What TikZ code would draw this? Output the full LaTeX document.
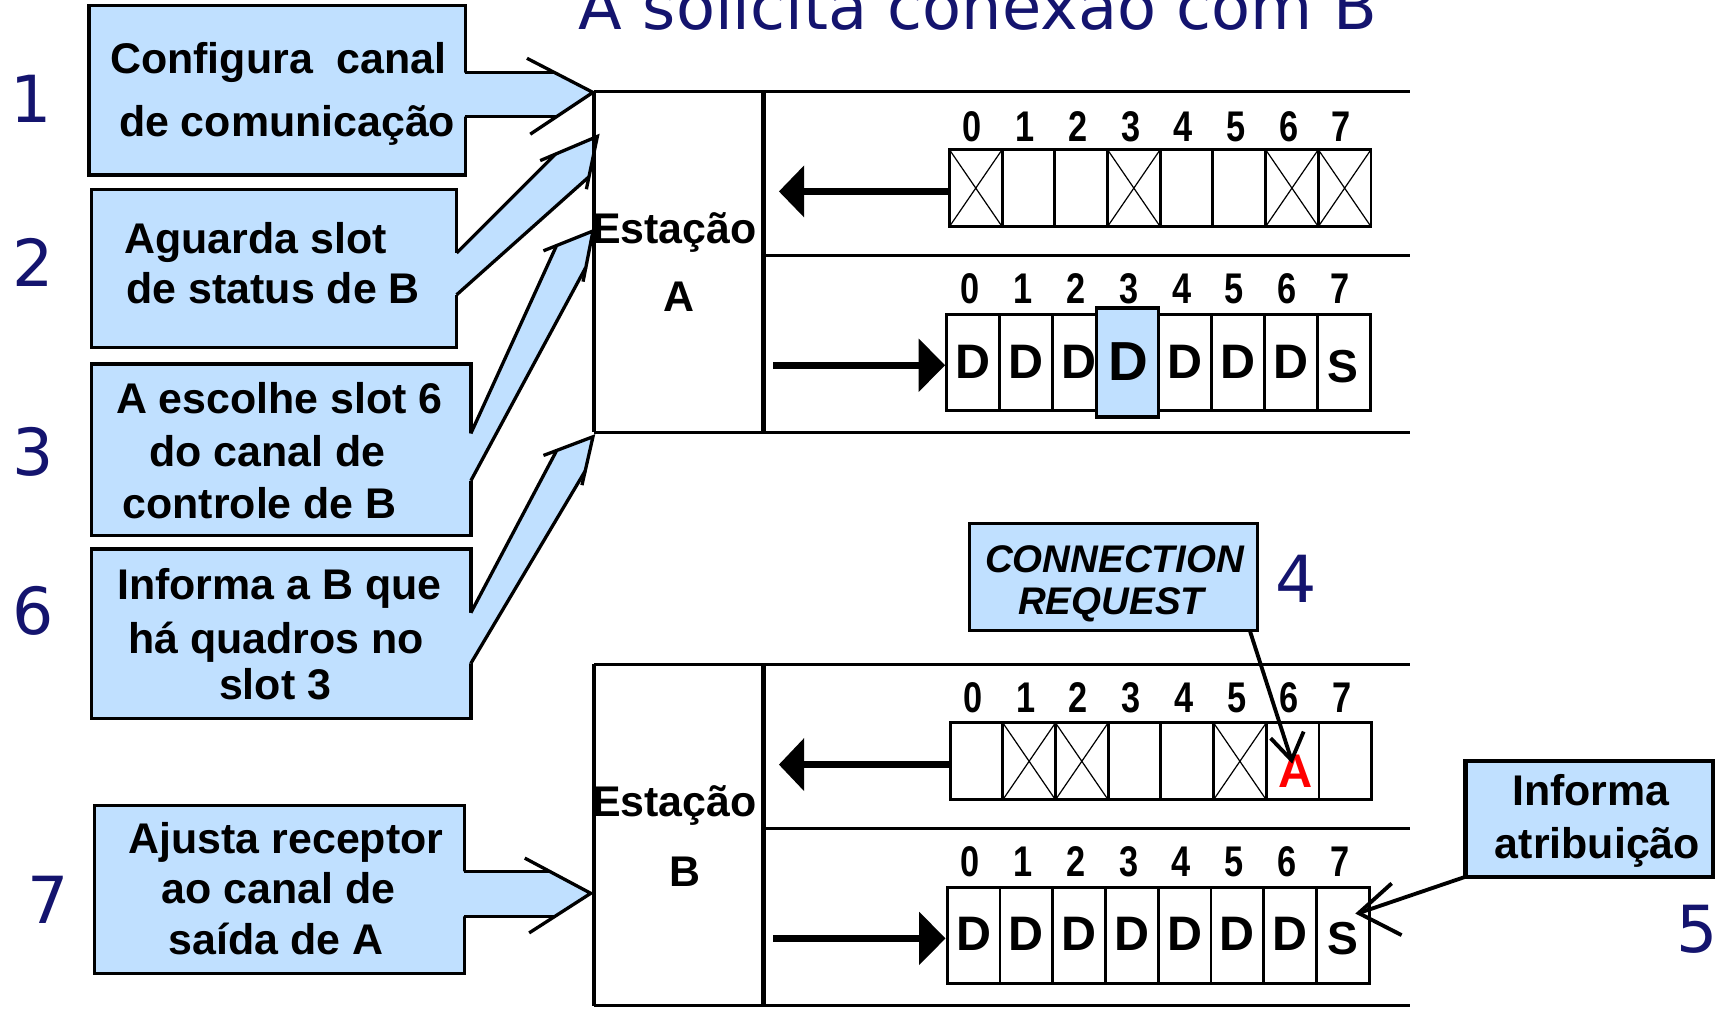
\documentclass[tikz,border=0pt]{standalone}
\usepackage{fontspec}
\setmainfont{Liberation Sans}
\newfontfamily\titlefont{DejaVu Sans}
\newfontfamily\digitfont{Liberation Sans}[FakeStretch=0.8]
\usetikzlibrary{arrows.meta}
\definecolor{navy}{RGB}{20,20,110}
\definecolor{lblue}{RGB}{192,224,255}
\definecolor{redA}{RGB}{255,0,0}
\newcommand\fsz[1]{\fontsize{#1}{#1}\selectfont}
\newcommand\callout[1]{%
  \fill[lblue] (#1A1) ++(-2.5,0) -- (#1A1) -- (#1P1) -- (#1T) -- (#1P2) -- (#1A2) -- ++(-2.5,0) -- cycle;
  \draw[line width=3] (#1A1) -- (#1P1) (#1A2) -- (#1P2);
  \draw[line width=3, line join=miter] (#1W1) -- (#1T) -- (#1W2);
}
\begin{document}
\begin{tikzpicture}[x=1pt,y=-1pt,
  boxtext/.style={font=\bfseries\fsz{39}, inner sep=0, anchor=base},
  num/.style={font=\titlefont\fsz{59}, text=navy, inner sep=0, anchor=base},
  digit/.style={font=\digitfont\bfseries\fsz{39}, inner sep=0, anchor=base},
  letter/.style={font=\bfseries\fsz{44}, inner sep=0, anchor=base},
  cell/.style={draw, line width=2.6, minimum width=47.9, minimum height=70, inner sep=0, outer sep=0},
  tallcell/.style={cell, minimum height=87},
  xline/.style={line width=1.1},
  stline/.style={line width=3},
  sbox/.style={draw, fill=lblue, line width=3, inner sep=0, outer sep=0, anchor=north west},
  rowarrow/.style={line width=6},
]
\useasboundingbox (0,0) rectangle (1568,920);

% title and step numbers
\node[font=\titlefont\fsz{58}, text=navy, anchor=base west, inner sep=0] (title) at (526,27) {A solicita conexão com B};
\node[num] (n1) at (28,111) {1};
\node[num] (n2) at (30,260) {2};
\node[num] (n3) at (30,432) {3};
\node[num] (n6) at (30,577) {6};
\node[num] (n7) at (44,839) {7};
\node[num] (n4) at (1178,548) {4};
\node[num] (n5) at (1543,866) {5};

% callout boxes
\node[sbox, minimum width=342, minimum height=154] (box1) at (81,5) {};
\node[sbox, minimum width=332, minimum height=144] (box2) at (83,172) {};
\node[sbox, minimum width=345, minimum height=156] (box3) at (83,331) {};
\node[sbox, minimum width=345, minimum height=154] (box6) at (83,499) {};
\node[sbox, minimum width=336, minimum height=153] (box7) at (86,732) {};

\coordinate (b1A1) at (423,66);   \coordinate (b1A2) at (423,106);
\coordinate (b1P1) at (504,66);   \coordinate (b1P2) at (506,106);
\coordinate (b1T) at (539,84);    \coordinate (b1W1) at (479,53); \coordinate (b1W2) at (482,122);
\coordinate (b2A1) at (415,230);  \coordinate (b2A2) at (415,268);
\coordinate (b2P1) at (505,140);  \coordinate (b2P2) at (535,161);
\coordinate (b2T) at (543,124);   \coordinate (b2W1) at (491,146); \coordinate (b2W2) at (533,172);
\coordinate (b3A1) at (428,394);  \coordinate (b3A2) at (428,437);
\coordinate (b3P1) at (506,223);  \coordinate (b3P2) at (532.5,243);
\coordinate (b3T) at (539,210);   \coordinate (b3W1) at (494,228); \coordinate (b3W2) at (530,256);
\coordinate (b6A1) at (428,557);  \coordinate (b6A2) at (428,603);
\coordinate (b6P1) at (506,409.5);\coordinate (b6P2) at (532,428);
\coordinate (b6T) at (539,397);   \coordinate (b6W1) at (494,414); \coordinate (b6W2) at (529,441);
\coordinate (b7A1) at (422,792);  \coordinate (b7A2) at (422,833);
\coordinate (b7P1) at (499.5,792);\coordinate (b7P2) at (504,833);
\coordinate (b7T) at (537,812);   \coordinate (b7W1) at (477,780); \coordinate (b7W2) at (481,848);
\callout{b1}\callout{b2}\callout{b3}\callout{b6}\callout{b7}

% callout texts
\node[boxtext] (t11) at (253,67) {Configura\ \ canal};
\node[boxtext] (t12) at (261,124) {de comunicação};
\node[boxtext, anchor=base west] (t21) at (113,230) {Aguarda slot};
\node[boxtext, anchor=base west] (t22) at (115,276) {de status de B};
\node[boxtext] (t31) at (254,376) {A escolhe slot 6};
\node[boxtext] (t32) at (243,424) {do canal de};
\node[boxtext] (t33) at (236,471) {controle de B};
\node[boxtext] (t61) at (254,545) {Informa a B que};
\node[boxtext] (t62) at (251,594) {há quadros no};
\node[boxtext] (t63) at (250,636) {slot 3};
\node[boxtext] (t71) at (260,776) {Ajusta receptor};
\node[boxtext] (t72) at (253,821) {ao canal de};
\node[boxtext] (t73) at (251,868) {saída de A};

% ---------- Station A ----------
\node[boxtext, anchor=base west] (estA) at (538,221) {Estação};
\node[boxtext] (labA) at (617,283) {A};
\coordinate (sA1) at (540,83);  \coordinate (sA2) at (1282,83);
\coordinate (sA3) at (540,393); \coordinate (sA4) at (1282,393);
\coordinate (sA5) at (694,83);  \coordinate (sA6) at (694,393);
\coordinate (sA7) at (694,232); \coordinate (sA8) at (1282,232);
\draw[stline] (sA1) -- (sA2) (sA3) -- (sA4) (sA1) -- (sA3) (sA7) -- (sA8);
\draw[line width=5] (sA5) -- (sA6);

% A top row (outgoing)
\foreach \i in {0,...,7} {
  \node[cell] (At\i) at ({863+47.9*(\i+0.5)},171) {};
  \node[digit] (Atd\i) at ({863+47.9*(\i+0.5)-3},129) {\i};
}
\foreach \i in {0,3,6,7} {
  \draw[xline] (At\i.north west) -- (At\i.south east) (At\i.north east) -- (At\i.south west);
}
\coordinate (AtE) at (708,174);
\draw[rowarrow, -{Triangle[length=23pt,width=46pt]}] (At0.west |- AtE) -- (AtE);

% A bottom row (incoming)
\foreach \i in {0,...,7} {
  \node[tallcell, minimum width=48.1] (Ab\i) at ({860.6+48.1*(\i+0.5)},329.5) {};
  \node[digit] (Abd\i) at ({860.6+48.1*(\i+0.5)-3},276) {\i};
}
\foreach \i in {0,1,2,4,5,6} {
  \node[letter] (Abl\i) at ({860.6+48.1*(\i+0.5)},344) {D};
}
\node[draw, fill=lblue, line width=3, minimum width=56, minimum height=99, inner sep=0, outer sep=0] (Abhl) at (1025,329.5) {};
\node[letter, font=\bfseries\fsz{50}] (Abl3) at (1025.5,345.5) {D};
\node[letter, font=\bfseries\fsz{42}] (Abl7) at (1221,348) {S};
\coordinate (AbS) at (703,332);
\draw[rowarrow, -{Triangle[length=24pt,width=47pt]}, shorten >=1.5pt] (AbS) -- (Ab0.west |- AbS);

% ---------- Station B ----------
\node[boxtext, anchor=base west] (estB) at (538,742) {Estação};
\node[boxtext] (labB) at (623,806) {B};
\coordinate (sB1) at (540,604);  \coordinate (sB2) at (1282,604);
\coordinate (sB3) at (540,914);  \coordinate (sB4) at (1282,914);
\coordinate (sB5) at (694,604);  \coordinate (sB6) at (694,914);
\coordinate (sB7) at (694,753);  \coordinate (sB8) at (1282,753);
\draw[stline] (sB1) -- (sB2) (sB3) -- (sB4) (sB1) -- (sB3) (sB7) -- (sB8);
\draw[line width=5] (sB5) -- (sB6);

% B top row
\foreach \i in {0,...,7} {
  \node[cell] (Bt\i) at ({863.6+47.9*(\i+0.5)},692) {};
  \node[digit] (Btd\i) at ({863.6+47.9*(\i+0.5)-3},648) {\i};
}
\foreach \i in {1,2,5} {
  \draw[xline] (Bt\i.north west) -- (Bt\i.south east) (Bt\i.north east) -- (Bt\i.south west);
}
\node[letter, font=\bfseries\fsz{43}, text=redA] (BtA) at (1178,716) {A};
\coordinate (BtE) at (708,695);
\draw[rowarrow, -{Triangle[length=23pt,width=47pt]}] (Bt0.west |- BtE) -- (BtE);

% B bottom row
\foreach \i in {0,...,7} {
  \node[tallcell, minimum width=47.95] (Bb\i) at ({861+47.95*(\i+0.5)},850.35) {};
  \node[digit] (Bbd\i) at ({861+47.95*(\i+0.5)-3},797) {\i};
}
\foreach \i in {0,...,6} {
  \node[letter] (Bbl\i) at ({861+47.95*(\i+0.5)},864) {D};
}
\node[letter, font=\bfseries\fsz{42}] (Bbl7) at (1221,868) {S};
\coordinate (BbS) at (703,853);
\draw[rowarrow, -{Triangle[length=24pt,width=47pt]}, shorten >=1.5pt] (BbS) -- (Bb0.west |- BbS);

% CONNECTION REQUEST
\node[sbox, minimum width=262, minimum height=97] (cr) at (881,476) {};
\node[font=\bfseries\itshape\fsz{35}, anchor=base, inner sep=0] (crt1) at (1013,520) {CONNECTION};
\node[font=\bfseries\itshape\fsz{35}, anchor=base, inner sep=0] (crt2) at (1010,559) {REQUEST};
\coordinate (crT) at (1174,691);
\coordinate (crW1) at (1155,671);
\coordinate (crW2) at (1185,665);
\draw[line width=3.5] ([xshift=-7]cr.south east) -- (crT);
\draw[line width=3.5] (crW1) -- (crT) -- (crW2);

% Informa atribuicao
\node[sbox, line width=4, minimum width=225, minimum height=105] (inf) at (1332,692) {};
\node[boxtext] (inft1) at (1446,732) {Informa};
\node[boxtext] (inft2) at (1452,780) {atribuição};
\coordinate (infT) at (1235,830);
\coordinate (infW1) at (1265,803);
\coordinate (infW2) at (1274,850);
\draw[line width=3.5] (inf.south west) -- (infT);
\draw[line width=3.5] (infW1) -- (infT) -- (infW2);
\end{tikzpicture}
\end{document}
